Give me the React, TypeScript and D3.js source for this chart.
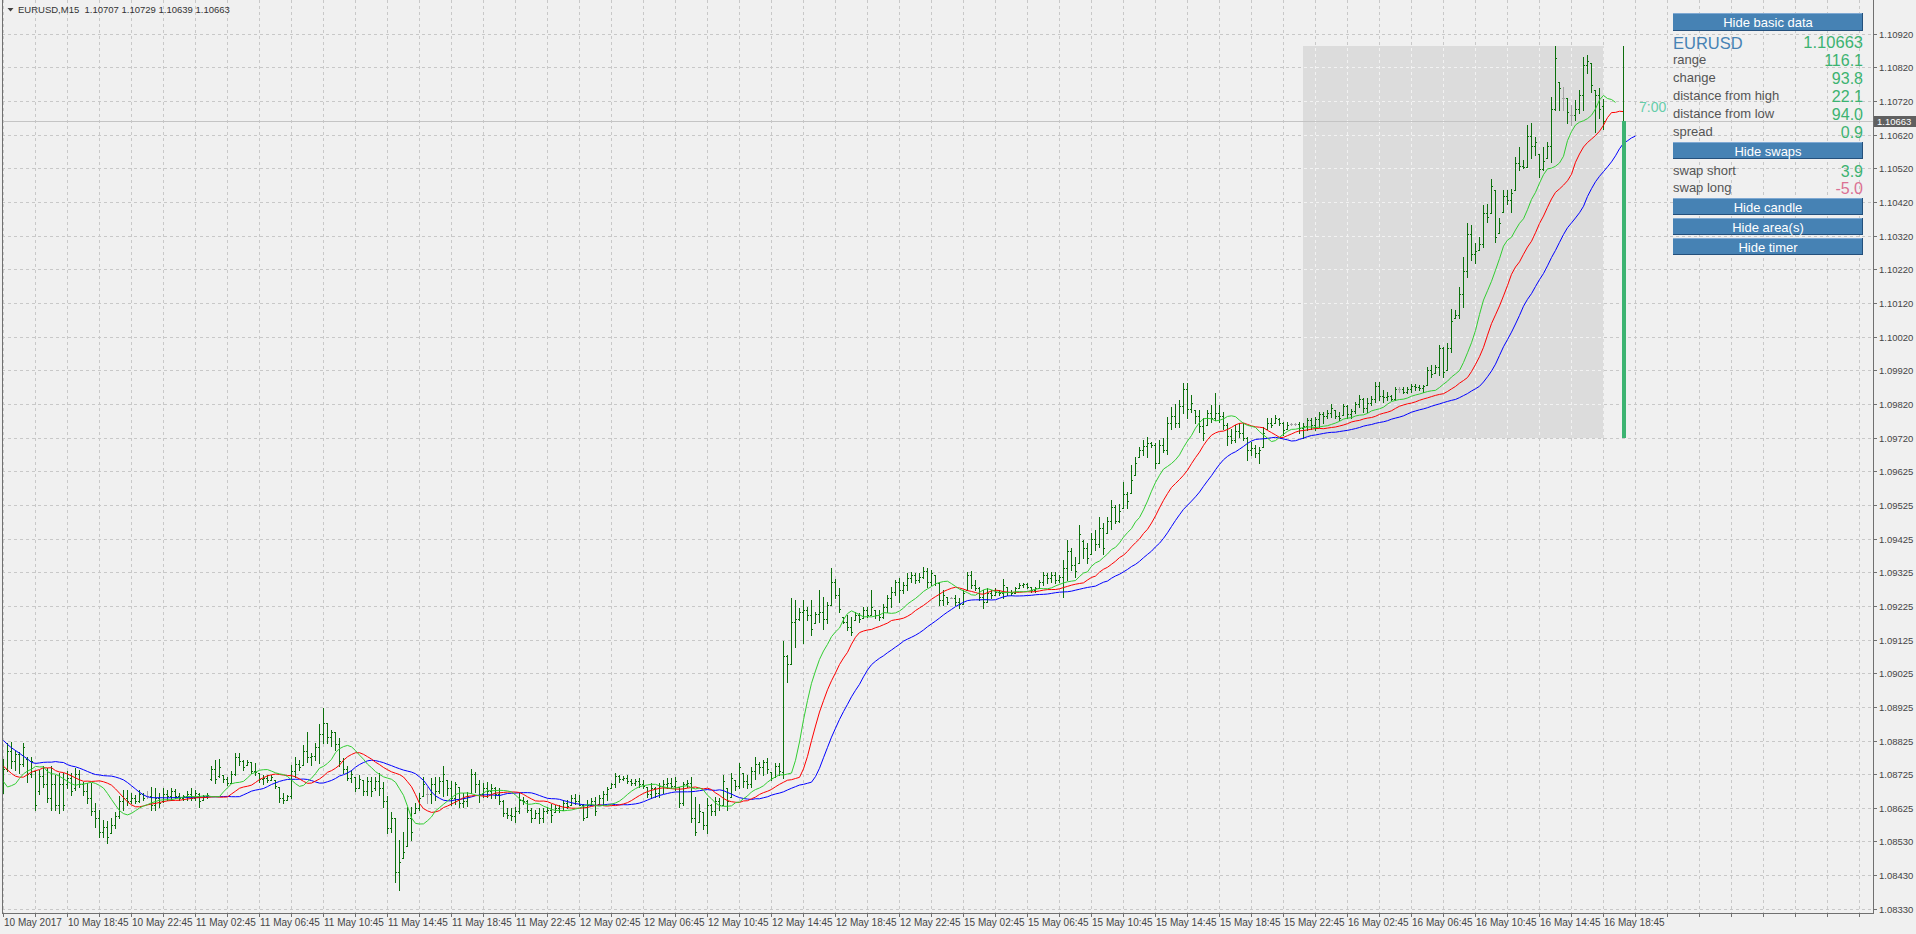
import React from "react";
import * as d3 from "d3";

const symbol = "EURUSD";
const timeframe = "M15";
const lastQuote = ["1.10707", "1.10729", "1.10639", "1.10663"];
const bidPrice = 1.10663;
const BASE = 1.08; // bar values are in points (1e-5) above 1.08000

// [open, high, low, close] per M15 bar, in points above 1.08000
const bars: [number, number, number, number][] = [
  [690,774,674,745],[745,822,738,800],[800,824,748,770],[770,802,743,790],[790,797,733,760],
  [760,822,753,810],[775,782,708,730],[730,782,723,770],[738,738,624,640],[680,743,672,725],
  [725,753,693,700],[700,748,649,660],[660,753,624,700],[700,728,624,640],[640,733,616,700],
  [700,733,624,640],[700,738,688,720],[720,733,669,680],[690,748,683,730],[730,743,691,700],
  [700,708,669,680],[680,703,644,660],[660,703,610,620],[620,644,575,600],[600,624,545,560],
  [560,595,545,575],[575,590,526,545],[555,600,555,580],[580,619,570,605],[605,664,600,650],
  [650,684,624,660],[660,684,639,650],[650,674,644,660],[660,669,644,650],[650,684,649,670],
  [670,674,654,660],[665,679,659,665],[665,693,624,640],[640,688,624,660],[660,674,634,645],
  [650,688,649,670],[670,684,654,665],[665,688,654,680],[680,685,659,665],[665,674,654,660],
  [660,669,654,665],[665,679,654,670],[670,688,654,660],[660,684,654,675],[672,674,632,650],
  [655,669,654,665],[665,674,659,668],[715,753,713,745],[745,772,703,715],[725,774,723,750],
  [728,728,708,715],[715,723,698,705],[705,738,703,730],[730,792,728,780],[780,794,757,770],
  [770,772,743,750],[757,772,757,765],[765,767,733,740],[740,762,728,735],[733,733,708,715],
  [715,728,701,720],[720,728,708,712],[714,728,713,722],[713,713,688,695],[693,693,649,660],
  [660,674,644,655],[655,669,654,665],[665,758,659,740],[740,782,723,760],[760,772,743,750],
  [758,817,758,800],[800,856,767,780],[780,792,758,785],[785,822,772,810],[810,879,764,850],
  [850,925,822,880],[880,881,822,840],[840,861,812,855],[855,856,802,820],[820,836,753,770],
  [770,777,733,745],[745,753,713,720],[720,743,708,730],[723,723,679,690],[690,728,688,715],
  [713,713,669,680],[680,723,669,710],[710,723,664,680],[690,723,684,710],[710,733,669,690],
  [690,708,634,650],[650,664,555,570],[570,619,560,600],[600,600,412,440],[440,535,387,470],
  [481,560,481,500],[516,634,516,600],[600,634,535,560],[614,644,614,630],[630,674,624,660],
  [664,723,664,700],[670,693,644,670],[670,718,644,700],[700,723,654,680],[680,723,674,710],
  [710,753,664,730],[713,713,669,690],[690,711,638,660],[660,708,643,700],[693,693,634,645],
  [645,673,634,650],[650,678,635,665],[673,744,673,730],[730,737,678,700],[700,712,648,670],
  [670,703,663,690],[690,708,663,680],[680,701,658,690],[690,693,658,670],[670,688,643,650],
  [650,655,606,615],[615,629,599,610],[610,629,594,605],[605,634,589,620],[620,673,614,655],
  [655,663,643,650],[650,653,619,625],[625,629,589,600],[600,624,599,615],[615,629,584,600],
  [600,629,589,620],[620,634,614,625],[625,643,589,610],[619,638,619,630],[630,638,619,625],
  [625,653,624,645],[645,655,629,635],[638,668,638,660],[660,671,643,650],[650,668,638,640],
  [640,643,594,600],[604,653,604,640],[640,658,638,650],[650,663,609,620],[643,668,643,660],
  [660,681,638,670],[670,693,653,685],[688,703,688,700],[700,732,693,725],[725,727,708,715],
  [715,724,712,720],[720,727,705,710],[710,717,698,705],[705,717,698,710],[710,720,693,700],
  [700,712,688,695],[693,693,663,670],[670,703,658,690],[690,693,663,675],[675,703,663,695],
  [695,712,673,700],[700,720,688,705],[705,720,688,695],[695,722,683,710],[693,693,634,645],
  [645,708,638,700],[700,712,693,705],[705,722,589,600],[600,663,550,560],[589,643,589,620],
  [619,619,569,580],[580,658,555,640],[640,643,609,620],[620,663,609,650],[650,658,624,640],
  [640,727,638,710],[688,688,624,650],[663,732,663,720],[712,712,683,695],[695,762,688,750],
  [732,732,693,710],[710,727,688,700],[700,752,693,740],[740,780,717,760],[760,767,732,750],
  [750,772,727,765],[765,777,732,745],[737,737,712,720],[722,762,722,755],[755,762,727,740],
  [735,1124,720,1080],[1080,1082,1003,1055],[1056,1250,1056,1180],[1180,1245,1107,1190],[1190,1221,1186,1210],
  [1210,1245,1119,1215],[1215,1226,1186,1200],[1200,1245,1142,1160],[1176,1211,1176,1205],[1205,1275,1181,1210],
  [1210,1255,1161,1190],[1190,1240,1176,1230],[1231,1339,1231,1300],[1300,1307,1250,1260],[1260,1280,1211,1220],
  [1196,1196,1176,1180],[1180,1201,1157,1165],[1165,1196,1142,1150],[1186,1211,1186,1200],[1200,1206,1181,1190],
  [1191,1226,1191,1215],[1215,1226,1196,1200],[1201,1275,1201,1225],[1216,1216,1191,1200],[1200,1216,1186,1195],
  [1195,1235,1191,1225],[1225,1260,1211,1250],[1250,1285,1226,1270],[1270,1305,1260,1300],[1300,1310,1240,1275],
  [1275,1300,1265,1290],[1290,1324,1275,1310],[1310,1329,1300,1320],[1320,1324,1295,1305],[1305,1324,1300,1315],
  [1315,1344,1310,1330],[1330,1339,1285,1300],[1300,1334,1290,1325],[1319,1319,1290,1295],[1295,1300,1231,1245],
  [1245,1275,1231,1260],[1255,1255,1235,1240],[1252,1255,1250,1252],[1252,1260,1231,1240],[1240,1250,1221,1235],
  [1235,1275,1235,1265],[1275,1329,1275,1320],[1320,1332,1280,1290],[1290,1305,1275,1280],[1280,1285,1245,1255],
  [1255,1275,1221,1240],[1240,1280,1240,1265],[1265,1275,1250,1260],[1260,1280,1260,1270],[1270,1275,1260,1265],
  [1265,1307,1250,1290],[1285,1285,1260,1270],[1270,1275,1260,1265],[1265,1285,1265,1280],[1280,1295,1280,1290],
  [1290,1297,1285,1292],[1292,1295,1280,1285],[1285,1285,1270,1275],[1275,1285,1270,1280],[1280,1305,1280,1300],
  [1300,1329,1290,1320],[1320,1324,1295,1310],[1310,1329,1300,1320],[1320,1329,1295,1305],[1305,1319,1300,1315],
  [1315,1364,1255,1340],[1340,1423,1304,1390],[1390,1398,1334,1350],[1350,1373,1314,1330],[1354,1467,1354,1440],
  [1420,1423,1369,1400],[1400,1413,1354,1370],[1383,1443,1383,1425],[1425,1453,1393,1410],[1410,1492,1403,1460],
  [1460,1472,1383,1400],[1443,1492,1443,1480],[1480,1541,1457,1520],[1520,1526,1472,1480],[1480,1531,1477,1510],
  [1517,1596,1517,1560],[1560,1566,1517,1540],[1561,1645,1561,1600],[1615,1670,1615,1650],[1670,1699,1670,1690],
  [1690,1719,1675,1700],[1700,1729,1670,1710],[1710,1714,1699,1705],[1705,1709,1635,1650],[1650,1719,1650,1705],
  [1705,1724,1684,1690],[1690,1788,1679,1770],[1770,1818,1753,1790],[1790,1826,1758,1770],[1770,1837,1758,1820],
  [1820,1887,1798,1870],[1870,1889,1783,1810],[1810,1852,1803,1830],[1808,1808,1768,1790],[1790,1808,1744,1760],
  [1760,1783,1719,1740],[1763,1808,1763,1800],[1800,1823,1773,1785],[1785,1857,1778,1800],[1800,1823,1773,1790],
  [1790,1803,1753,1765],[1765,1768,1704,1730],[1730,1753,1709,1720],[1720,1763,1714,1745],[1745,1768,1729,1740],
  [1740,1768,1719,1725],[1725,1729,1660,1690],[1690,1714,1674,1695],[1695,1704,1670,1680],[1680,1699,1650,1690],
  [1699,1758,1699,1740],[1753,1783,1753,1770],[1770,1783,1758,1765],[1768,1793,1768,1785],[1780,1783,1763,1770],
  [1770,1773,1734,1750],[1753,1773,1753,1765],[1766,1768,1763,1766],[1766,1768,1763,1766],[1766,1773,1740,1755],
  [1755,1768,1726,1760],[1760,1785,1750,1778],[1778,1783,1753,1765],[1765,1788,1748,1780],[1780,1803,1758,1795],
  [1795,1803,1768,1790],[1790,1807,1783,1800],[1800,1827,1788,1815],[1807,1807,1783,1790],[1790,1803,1778,1785],
  [1793,1827,1793,1820],[1820,1822,1783,1795],[1795,1812,1783,1805],[1805,1832,1798,1825],[1825,1852,1817,1840],
  [1840,1842,1803,1815],[1815,1842,1803,1830],[1830,1849,1822,1840],[1840,1891,1832,1880],[1880,1891,1837,1850],
  [1850,1867,1832,1845],[1845,1862,1837,1850],[1850,1852,1837,1840],[1840,1877,1837,1870],[1870,1877,1862,1870],
  [1870,1877,1857,1862],[1862,1877,1857,1870],[1870,1886,1862,1880],[1880,1886,1867,1875],[1875,1881,1867,1872],
  [1872,1881,1862,1878],[1881,1936,1881,1925],[1925,1941,1906,1915],[1916,1941,1916,1935],[1935,2000,1911,1990],
  [1990,1995,1906,1920],[1926,2005,1926,1990],[1990,2108,1980,2070],[2079,2104,2079,2090],[2090,2173,2079,2150],
  [2150,2262,2113,2220],[2220,2360,2202,2330],[2330,2355,2252,2270],[2270,2301,2242,2280],[2281,2321,2281,2300],
  [2300,2415,2291,2390],[2390,2419,2365,2380],[2390,2493,2390,2470],[2459,2459,2306,2320],[2331,2375,2331,2360],
  [2395,2459,2395,2440],[2440,2459,2419,2430],[2430,2461,2395,2450],[2459,2558,2459,2540],[2540,2587,2518,2530],
  [2530,2548,2523,2528],[2528,2651,2528,2620],[2620,2656,2553,2590],[2590,2617,2563,2600],[2567,2567,2498,2520],
  [2520,2587,2518,2545],[2553,2602,2553,2590],[2590,2735,2543,2700],[2700,2885,2696,2850],[2780,2780,2696,2760],
  [2730,2765,2696,2730],[2730,2730,2656,2690],[2680,2711,2651,2680],[2680,2725,2666,2700],[2700,2755,2686,2740],
  [2740,2854,2696,2830],[2830,2859,2804,2840],[2834,2834,2750,2770],[2755,2755,2632,2740],[2740,2760,2671,2700],
  [2707,2729,2639,2663],
];

// Alligator values (points) on the first shifted bars
const jawPre = [830, 818, 808, 800, 792, 783, 775, 765];
const teethPre = [753, 743, 732, 724, 721];
const lipsPre = [708, 692, 696];
const jawPeriod = 13, teethPeriod = 8, lipsPeriod = 5;

const priceLabels = [
  "1.10920","1.10820","1.10720","1.10620","1.10520","1.10420","1.10320","1.10220","1.10120",
  "1.10020","1.09920","1.09820","1.09720","1.09625","1.09525","1.09425","1.09325","1.09225",
  "1.09125","1.09025","1.08925","1.08825","1.08725","1.08625","1.08530","1.08430","1.08330",
];
const timeLabels = [
  "10 May 2017","10 May 18:45","10 May 22:45","11 May 02:45","11 May 06:45","11 May 10:45",
  "11 May 14:45","11 May 18:45","11 May 22:45","12 May 02:45","12 May 06:45","12 May 10:45",
  "12 May 14:45","12 May 18:45","12 May 22:45","15 May 02:45","15 May 06:45","15 May 10:45",
  "15 May 14:45","15 May 18:45","15 May 22:45","16 May 02:45","16 May 06:45","16 May 10:45",
  "16 May 14:45","16 May 18:45",
];

const sessionStart = 325; // first bar of highlighted day area
const candleBar = 405;
const candle = { open: 1726, high: 2886, low: 1726, close: 2663 };

const infoLabels = ["range", "change", "distance from high", "distance from low", "spread"];
const infoValues = ["116.1", "93.8", "22.1", "94.0", "0.9"];
const swapLabels = ["swap short", "swap long"];
const swapValues = ["3.9", "-5.0"];
const timerText = "7:00";

const FONT = "'Liberation Sans', Arial, sans-serif";

export default function App() {
  const W = 1916, H = 934;
  const L = 2, R = 1873, B = 913;
  const p = (v: number) => BASE + v / 1e5;
  const y = d3.scaleLinear().domain([1.0833, 1.1092]).range([909.3, 34.3]);
  const x = d3.scaleLinear().domain([0, 400]).range([3, 1603]);
  const tickVals = priceLabels.map((_, k) => 1.1092 - (k * 0.0259) / 26);

  const median = bars.map((b) => (b[1] + b[2]) / 2);
  const smma = (pre: number[], n: number) => {
    const out = [...pre];
    let prev = pre[pre.length - 1];
    for (const m of median) {
      prev = (prev * (n - 1) + m) / n;
      out.push(prev);
    }
    return out;
  };
  const jaw = smma(jawPre, jawPeriod);
  const teeth = smma(teethPre, teethPeriod);
  const lips = smma(lipsPre, lipsPeriod);
  const line = d3
    .line<number>()
    .x((_, j) => x(j) + 0.5)
    .y((v) => y(p(v)));

  const vGrid: number[] = [];
  for (let n = 0; x(8 * n) < R; n++) vGrid.push(Math.round(x(8 * n)) + 0.5);
  const hGrid = tickVals.map((t) => Math.floor(y(t)) + 0.5);

  const sess = bars.slice(sessionStart);
  const sessHigh = d3.max(sess, (b) => b[1])!;
  const sessLow = d3.min(sess, (b) => b[2])!;
  const ax0 = Math.round(x(sessionStart));
  const ax1 = Math.round(x(bars.length - 1)) + 1;
  const ay0 = Math.round(y(p(sessHigh)));
  const ay1 = Math.round(y(p(sessLow)));

  const gridLines = (stroke: string) => (
    <g stroke={stroke} strokeWidth={1} strokeDasharray="3,3" shapeRendering="crispEdges">
      {vGrid.map((gx, k) => (
        <line key={"v" + k} x1={gx} x2={gx} y1={0} y2={B} />
      ))}
      {hGrid.map((gy, k) => (
        <line key={"h" + k} x1={L} x2={R} y1={gy} y2={gy} />
      ))}
    </g>
  );

  const bidY = Math.floor(y(bidPrice)) + 0.5;
  const cx = Math.round(x(candleBar));

  const btn = (label: string, by: number, h: number) => (
    <g key={label}>
      <rect x={1673} y={by} width={190} height={h} fill="#4682b4" />
      <rect x={1673} y={by} width={190} height={1} fill="#7fa9d3" />
      <rect x={1673} y={by + h - 1} width={190} height={1} fill="#24507c" />
      <rect x={1862} y={by} width={1} height={h} fill="#24507c" />
      <text x={1768} y={by + 13.5} textAnchor="middle" fill="#ffffff" fontSize={13} fontFamily={FONT}>
        {label}
      </text>
    </g>
  );

  return (
    <svg width={W} height={H} style={{ position: "absolute", left: 0, top: 0 }} fontFamily={FONT}>
      <rect x={0} y={0} width={W} height={H} fill="#f0f0f0" />
      {gridLines("#c8c8c8")}
      <rect x={ax0} y={ay0} width={ax1 - ax0} height={ay1 - ay0} fill="#dcdcdc" />
      <clipPath id="areaClip">
        <rect x={ax0} y={ay0} width={ax1 - ax0} height={ay1 - ay0} />
      </clipPath>
      <g clipPath="url(#areaClip)">{gridLines("#f2f2f2")}</g>

      {/* bid line */}
      <line x1={L} x2={R} y1={bidY} y2={bidY} stroke="#c4c4c4" strokeWidth={1} shapeRendering="crispEdges" />

      {/* OHLC bars */}
      <g shapeRendering="crispEdges">
        {bars.map((b, i) => {
          const [o, h, l, c] = b;
          const col = Math.round(x(i));
          const yh = Math.round(y(p(h)));
          const yl = Math.round(y(p(l)));
          const yo = Math.round(y(p(Math.min(h, Math.max(l, o)))));
          const yc = Math.round(y(p(Math.min(h, Math.max(l, c)))));
          const color = o === c ? "#a4a4a4" : "#0c700c";
          return (
            <g key={i} fill={color}>
              <rect x={col} y={yh} width={1} height={Math.max(1, yl - yh + 1)} />
              <rect x={col - 1} y={yo} width={1} height={1} />
              <rect x={col + 1} y={yc} width={1} height={1} />
            </g>
          );
        })}
      </g>

      {/* Alligator */}
      <g fill="none" strokeWidth={1}>
        <path d={line(jaw) || ""} stroke="#0000ff" />
        <path d={line(teeth) || ""} stroke="#ff0000" />
        <path d={line(lips) || ""} stroke="#32cd32" />
      </g>

      {/* day candle */}
      <rect x={cx} y={Math.round(y(p(candle.high)))} width={1}
        height={Math.round(y(p(candle.close))) - Math.round(y(p(candle.high)))} fill="#0e6e0e" />
      <rect x={cx - 1} y={Math.round(y(p(candle.close)))} width={4}
        height={Math.round(y(p(candle.open))) - Math.round(y(p(candle.close)))} fill="#3cb371" />

      <text x={1639} y={111.5} fill="#66cdaa" fontSize={14}>{timerText}</text>

      {/* frame */}
      <g stroke="#707070" strokeWidth={1} shapeRendering="crispEdges">
        <line x1={L + 0.5} x2={L + 0.5} y1={0} y2={B + 0.5} />
        <line x1={R + 0.5} x2={R + 0.5} y1={0} y2={B + 0.5} />
        <line x1={L} x2={R + 1} y1={B + 0.5} y2={B + 0.5} />
        {hGrid.map((gy, k) => (
          <line key={"yt" + k} x1={R} x2={R + 4} y1={gy} y2={gy} />
        ))}
        {vGrid.map((gx, k) => (
          <line key={"xt" + k} x1={gx} x2={gx} y1={B} y2={B + 4} />
        ))}
      </g>

      {/* price axis labels */}
      <g fill="#454545" fontSize={9.5}>
        {priceLabels.map((t, k) => (
          <text key={t} x={1879} y={hGrid[k] + 3.5}>{t}</text>
        ))}
      </g>
      <rect x={1874} y={bidY - 5.5} width={42} height={11} fill="#606060" />
      <text x={1877} y={bidY + 3.5} fill="#ffffff" fontSize={9.5}>{bidPrice.toFixed(5)}</text>

      {/* time labels */}
      <g fill="#454545" fontSize={10}>
        {timeLabels.map((t, k) => (
          <text key={t} x={Math.round(x(16 * k)) + 1} y={926}>{t}</text>
        ))}
      </g>

      {/* title */}
      <path d="M7.5,8 L13.5,8 L10.5,11.5 Z" fill="#404040" />
      <text x={18} y={13} fill="#333333" fontSize={9.5} style={{ whiteSpace: "pre" }}>
        {`${symbol},${timeframe}  ${lastQuote.join(" ")}`}
      </text>

      {/* info panel */}
      {btn("Hide basic data", 13, 18)}
      <text x={1673} y={48.5} fill="#4682b4" fontSize={16.5}>{symbol}</text>
      <text x={1863} y={48} fill="#3cb371" fontSize={16.5} textAnchor="end">{bidPrice.toFixed(5)}</text>
      {infoLabels.map((t, k) => (
        <g key={t}>
          <text x={1673} y={64 + k * 17.9} fill="#555555" fontSize={13}>{t}</text>
          <text x={1863} y={66 + k * 17.9} fill="#3cb371" fontSize={16} textAnchor="end">{infoValues[k]}</text>
        </g>
      ))}
      {btn("Hide swaps", 142, 17)}
      {swapLabels.map((t, k) => (
        <g key={t}>
          <text x={1673} y={174.5 + k * 17.9} fill="#555555" fontSize={13}>{t}</text>
          <text x={1863} y={176.5 + k * 17.9} fill={swapValues[k].startsWith("-") ? "#db7093" : "#3cb371"}
            fontSize={16} textAnchor="end">{swapValues[k]}</text>
        </g>
      ))}
      {btn("Hide candle", 198, 17)}
      {btn("Hide area(s)", 218, 17)}
      {btn("Hide timer", 238, 17)}
    </svg>
  );
}
